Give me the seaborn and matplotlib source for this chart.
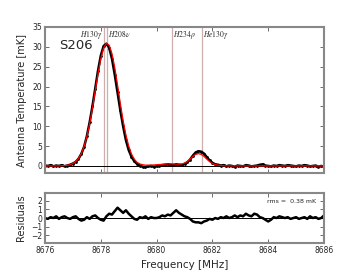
import numpy as np
import pandas as pd
import matplotlib
matplotlib.use("Agg")
import matplotlib.pyplot as plt
import seaborn as sns

# channel frequencies [MHz], 0.1 MHz spacing
freq = np.linspace(8676, 8686, 101)

# observed spectrum [mK]
spectrum = [
    0.1, 0.0, 0.2, -0.1, 0.1, 0.0, 0.2, -0.1, 0.1, 0.3,
    0.6, 1.0, 1.8, 3.0, 4.8, 7.5, 11.0, 15.0, 19.5, 24.0,
    27.8, 30.2, 30.8, 29.8, 27.0, 23.0, 18.5, 14.0, 10.0, 6.5,
    4.0, 2.3, 1.2, 0.5, 0.1, -0.2, -0.3, -0.1, 0.0, -0.2,
    -0.1, 0.1, 0.2, 0.3, 0.4, 0.3, 0.2, 0.4, 0.3, 0.2,
    0.5, 0.9, 1.6, 2.6, 3.4, 3.7, 3.6, 3.1, 2.2, 1.4,
    0.8, 0.4, 0.3, 0.1, 0.2, -0.1, 0.1, 0.0, -0.2, 0.1,
    0.0, -0.1, 0.2, 0.1, -0.1, 0.0, 0.1, 0.3, 0.4, 0.1,
    0.0, -0.1, 0.1, 0.0, 0.2, 0.1, 0.0, 0.2, 0.1, 0.0,
    -0.1, 0.1, 0.0, 0.2, 0.1, -0.1, 0.0, 0.1, -0.2, 0.0,
    -0.2,
]

# gaussian fit [mK]
fit = [
    0.0, 0.0, 0.0, 0.0, 0.0, 0.0, 0.05, 0.1, 0.15, 0.3,
    0.6, 1.1, 1.9, 3.1, 4.9, 7.4, 10.6, 14.5, 18.9, 23.2,
    27.0, 29.7, 30.9, 30.4, 28.3, 24.8, 20.4, 15.7, 11.4, 7.8,
    5.0, 3.0, 1.7, 0.9, 0.5, 0.3, 0.2, 0.2, 0.2, 0.25,
    0.3, 0.35, 0.4, 0.45, 0.5, 0.5, 0.5, 0.45, 0.45, 0.5,
    0.7, 1.1, 1.7, 2.4, 2.9, 3.1, 2.9, 2.4, 1.7, 1.1,
    0.6, 0.35, 0.2, 0.1, 0.05, 0.0, 0.0, 0.0, 0.0, 0.0,
    0.0, 0.0, 0.0, 0.0, 0.0, 0.0, 0.0, 0.0, 0.0, 0.0,
    0.0, 0.0, 0.0, 0.0, 0.0, 0.0, 0.0, 0.0, 0.0, 0.0,
    0.0, 0.0, 0.0, 0.0, 0.0, 0.0, 0.0, 0.0, 0.0, 0.0,
    0.0,
]

# residuals [mK]
residuals = [
    0.0, -0.1, 0.1, 0.0, 0.2, -0.1, 0.1, 0.2, 0.0, -0.1,
    0.1, 0.2, -0.1, -0.3, -0.2, 0.1, -0.1, 0.2, 0.3, 0.0,
    -0.2, -0.3, 0.2, 0.5, 0.4, 0.8, 1.2, 0.9, 0.6, 0.9,
    0.5, 0.2, -0.1, -0.2, 0.1, 0.0, 0.2, -0.1, 0.1, 0.0,
    0.0, 0.1, 0.3, 0.2, 0.4, 0.3, 0.6, 0.9, 0.6, 0.4,
    0.2, 0.1, -0.1, -0.4, -0.5, -0.5, -0.6, -0.4, -0.3, -0.1,
    -0.2, 0.0, -0.1, 0.1, 0.0, 0.2, 0.0, 0.1, 0.3, 0.1,
    0.3, 0.2, 0.5, 0.3, 0.2, 0.5, 0.4, 0.1, 0.0, -0.2,
    -0.4, -0.2, 0.1, 0.0, 0.2, 0.1, 0.0, 0.1, -0.1, 0.0,
    0.1, -0.1, 0.0, 0.1, -0.1, 0.2, 0.0, 0.1, -0.1, 0.0,
    0.3,
]

# recombination lines
line_names = [r"$H130\gamma$", r"$H208\nu$", r"$H234\rho$", r"$He130\gamma$"]
line_freqs = [8678.10, 8678.22, 8680.55, 8681.63]
line_align = ["right", "left", "left", "left"]

df = pd.DataFrame({"freq": freq, "spec": spectrum, "fit": fit, "res": residuals})

sns.set_style("ticks", {"xtick.direction": "in", "ytick.direction": "in",
                        "axes.edgecolor": "#888888"})
plt.rcParams["font.family"] = ["DejaVu Sans"]
plt.rcParams["mathtext.fontset"] = "stix"
plt.rcParams["xtick.top"] = True
plt.rcParams["ytick.right"] = True

fig = plt.figure(figsize=(3.6, 2.7), dpi=100)
ax = fig.add_axes([0.125, 0.359, 0.775, 0.541])
axr = fig.add_axes([0.125, 0.1, 0.775, 0.185])

for f in line_freqs:
    ax.axvline(f, color="#c49a9a", lw=0.9, alpha=0.8, zorder=1)
for name, f, ha in zip(line_names, line_freqs, line_align):
    ax.text(f + (0.05 if ha == "left" else -0.05), 34.6, name, ha=ha, va="top", fontsize=5.5)

ax.axhline(0, color="black", lw=0.7)
sns.lineplot(data=df, x="freq", y="spec", ax=ax, color="black", lw=1.8,
             marker="o", markersize=2, markeredgewidth=0)
sns.lineplot(data=df, x="freq", y="fit", ax=ax, color="red", lw=0.9)
ax.text(8676.5, 30.4, "S206", fontsize=9.5, va="center")

ax.set_xlim(8676, 8686)
ax.set_ylim(-1.8, 35)
ax.set_yticks(range(0, 36, 5))
ax.set_xticks(range(8676, 8687, 2))
ax.set_xticklabels([])
ax.set_xlabel("")
ax.set_ylabel("Antenna Temperature [mK]", fontsize=7)

axr.axhline(0, color="black", lw=0.7)
sns.lineplot(data=df, x="freq", y="res", ax=axr, color="black", lw=1.8)
axr.text(0.97, 0.84, "rms =  0.38 mK", transform=axr.transAxes, ha="right",
         va="center", fontsize=4.5)
axr.set_xlim(8676, 8686)
axr.set_ylim(-2.9, 2.9)
axr.set_yticks([-2, -1, 0, 1, 2])
axr.set_xticks(range(8676, 8687, 2))
axr.set_xlabel("Frequency [MHz]", fontsize=7.5)
axr.set_ylabel("Residuals", fontsize=7)

for a in (ax, axr):
    a.tick_params(labelsize=5.5, length=3, width=0.6, color="#555555", pad=2)
    for s in a.spines.values():
        s.set_linewidth(1.5)

fig.savefig("out.png", dpi=100)
